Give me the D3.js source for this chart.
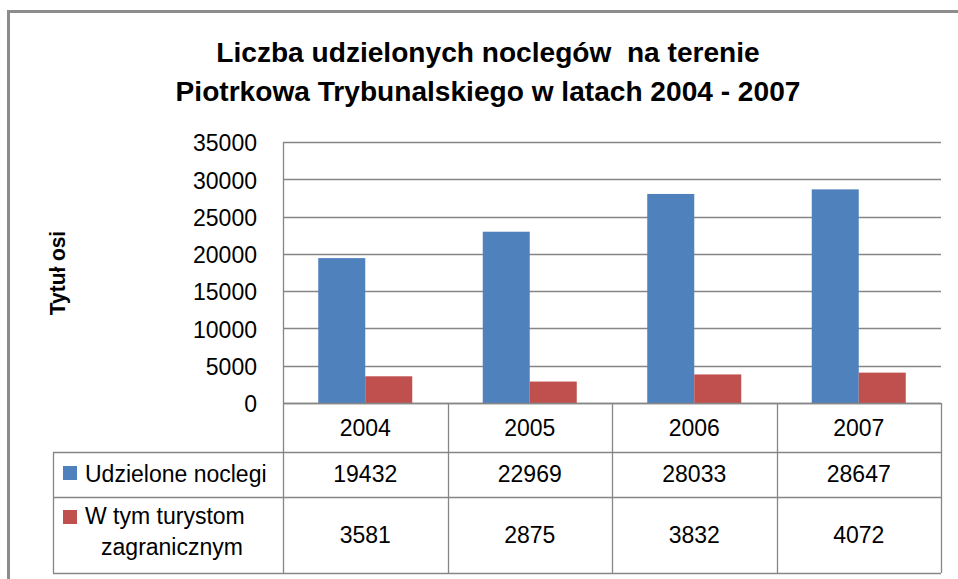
<!DOCTYPE html>
<html>
<head>
<meta charset="utf-8">
<script src="https://cdn.jsdelivr.net/npm/d3@7"></script>
<style>
  body { margin: 0; background: #fff; }
  svg { display: block; font-family: "Liberation Sans", Arial, sans-serif; }
</style>
</head>
<body>
<svg id="chart" width="958" height="579"></svg>
<script>
// data
var years = ['2004', '2005', '2006', '2007'];
var seriesNames = ['Udzielone noclegi', 'W tym turystom zagranicznym'];
var noclegi = [19432, 22969, 28033, 28647];
var zagraniczni = [3581, 2875, 3832, 4072];
var yTicks = [0, 5000, 10000, 15000, 20000, 25000, 30000, 35000];
var colors = ['#4f81bd', '#c0504d'];
var titleLines = ['Liczba udzielonych noclegów  na terenie',
                  'Piotrkowa Trybunalskiego w latach 2004 - 2007'];

var values = [noclegi, zagraniczni];
var grid = '#868686';
var fontSize = 23;

var svg = d3.select('#chart');

// outer chart frame (runs off the right / bottom edge like in the screenshot)
svg.append('rect')
    .attr('x', 8.5).attr('y', 11.5)
    .attr('width', 980).attr('height', 600)
    .attr('fill', 'none')
    .attr('stroke', '#8c8c8c').attr('stroke-width', 3);

var plot = { left: 283, right: 941, top: 142, bottom: 403 };
var rows = [403, 452, 497, 573];
var tableLeft = 53;

var x = d3.scaleBand().domain(years).range([plot.left, plot.right]);
var xs = d3.scaleBand().domain(d3.range(2))
    .range([0, x.bandwidth()]).paddingOuter(0.75).paddingInner(0);
var y = d3.scaleLinear().domain([0, 35000]).range([plot.bottom, plot.top]);

// title: tall narrow bold face, squeezed so the 2nd line is ~625px wide
var title = svg.append('g').attr('font-weight', 'bold').attr('fill', '#000');
var tl = titleLines.map(function(line, i) {
    return title.append('text')
        .attr('text-anchor', 'middle').attr('font-size', 28)
        .attr('xml:space', 'preserve').style('white-space', 'pre')
        .text(line);
});
var sx = 625 / tl[1].node().getComputedTextLength();
tl[0].attr('transform', 'translate(488,62) scale(' + sx + ',1)');
tl[1].attr('transform', 'translate(488,101) scale(' + sx + ',1)');

// gridlines
svg.append('g')
    .selectAll('line').data(yTicks).join('line')
    .attr('x1', plot.left).attr('x2', plot.right)
    .attr('y1', function(d) { return Math.round(y(d)) + 0.5; })
    .attr('y2', function(d) { return Math.round(y(d)) + 0.5; })
    .attr('stroke', grid).attr('stroke-width', 1.3);

// y axis labels
var yAxis = d3.axisLeft(y).tickValues(yTicks).tickSize(0).tickPadding(26)
    .tickFormat(d3.format('d'));
var yg = svg.append('g').attr('transform', 'translate(' + plot.left + ',0)').call(yAxis);
yg.select('.domain').remove();
yg.selectAll('text')
    .attr('font-family', '"Liberation Sans", Arial, sans-serif')
    .attr('font-size', fontSize).attr('fill', '#000').attr('dy', '0.38em');

// axis title
svg.append('text')
    .attr('transform', 'translate(65,273) rotate(-90) scale(0.95,1)')
    .attr('text-anchor', 'middle')
    .attr('font-size', 22).attr('font-weight', 'bold')
    .text('Tytuł osi');

// bars
values.forEach(function(vals, si) {
    svg.append('g').selectAll('rect').data(vals).join('rect')
        .attr('x', function(d, i) { return x(years[i]) + xs(si); })
        .attr('width', xs.bandwidth())
        .attr('y', function(d) { return y(d); })
        .attr('height', function(d) { return y(0) - y(d); })
        .attr('fill', colors[si]);
});

// data table lines
var tbl = svg.append('g').attr('stroke', grid).attr('stroke-width', 1.3).attr('fill', 'none');
rows.forEach(function(ry, i) {
    tbl.append('line')
        .attr('x1', i === 0 ? plot.left : tableLeft).attr('x2', plot.right)
        .attr('y1', ry + 0.5).attr('y2', ry + 0.5);
});
tbl.append('line').attr('x1', tableLeft + 0.5).attr('x2', tableLeft + 0.5)
    .attr('y1', rows[1]).attr('y2', rows[3]);
tbl.append('line').attr('x1', plot.left + 0.5).attr('x2', plot.left + 0.5)
    .attr('y1', plot.top).attr('y2', rows[3]);
years.forEach(function(yr) {
    var xr = Math.round(x(yr) + x.bandwidth()) + 0.5;
    tbl.append('line').attr('x1', xr).attr('x2', xr)
        .attr('y1', rows[0]).attr('y2', rows[3]);
});

// category row
svg.append('g').selectAll('text').data(years).join('text')
    .attr('x', function(d) { return x(d) + x.bandwidth() / 2; })
    .attr('y', 436)
    .attr('text-anchor', 'middle').attr('font-size', fontSize)
    .text(function(d) { return d; });

// value rows
var rowBase = [482, 543];
values.forEach(function(vals, si) {
    svg.append('g').selectAll('text').data(vals).join('text')
        .attr('x', function(d, i) { return x(years[i]) + x.bandwidth() / 2; })
        .attr('y', rowBase[si])
        .attr('text-anchor', 'middle').attr('font-size', fontSize)
        .text(function(d) { return d; });
});

// legend keys inside the table
var leg = svg.append('g').attr('font-size', fontSize);
leg.append('rect').attr('x', 63).attr('y', 466).attr('width', 14).attr('height', 14).attr('fill', colors[0]);
leg.append('text').attr('x', 85).attr('y', 482).text(seriesNames[0]);
leg.append('rect').attr('x', 63).attr('y', 510).attr('width', 14).attr('height', 14).attr('fill', colors[1]);
var words = seriesNames[1].split(' ');
leg.append('text').attr('x', 85).attr('y', 524).text(words.slice(0, 3).join(' '));
leg.append('text').attr('x', 172).attr('y', 555).attr('text-anchor', 'middle').text(words.slice(3).join(' '));
</script>
</body>
</html>
